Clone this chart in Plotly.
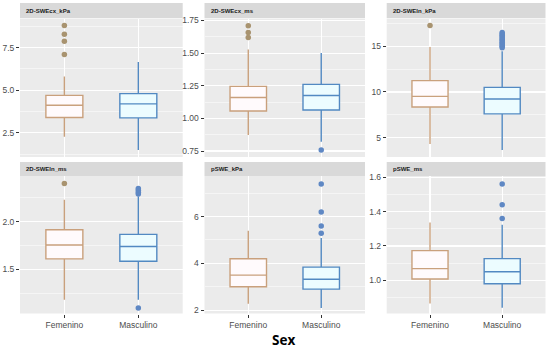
import plotly.graph_objects as go

groups = ["Femenino", "Masculino"]
panels = ["2D-SWEcx_kPa", "2D-SWEcx_ms", "2D-SWEln_kPa", "2D-SWEln_ms", "pSWE_kPa", "pSWE_ms"]

fem_low = [2.28, 0.873, 4.3, 1.18, 2.28, 0.865]
fem_q1 = [3.40, 1.056, 8.35, 1.61, 3.0, 1.008]
fem_median = [4.12, 1.16, 9.52, 1.756, 3.5, 1.068]
fem_q3 = [4.70, 1.245, 11.24, 1.916, 4.2, 1.173]
fem_high = [5.80, 1.527, 14.93, 2.23, 5.39, 1.336]
fem_outliers = [[7.09, 7.87, 8.28, 8.79], [1.62, 1.658, 1.71], [17.27], [2.40], [], []]

masc_low = [1.5, 0.82, 3.65, 1.18, 2.1, 0.84]
masc_q1 = [3.38, 1.064, 7.6, 1.584, 2.9, 0.98]
masc_median = [4.2, 1.175, 9.23, 1.74, 3.32, 1.05]
masc_q3 = [4.8, 1.26, 10.5, 1.867, 3.84, 1.126]
masc_high = [6.66, 1.50, 14.45, 2.265, 5.08, 1.323]
masc_outliers = [[], [0.757],
                 [14.85, 15.0, 15.15, 15.3, 15.45, 15.6, 15.75, 15.9, 16.05, 16.2, 16.35, 16.5],
                 [1.095, 2.29, 2.31, 2.33, 2.35], [5.29, 5.6, 6.19, 7.39], [1.36, 1.44, 1.56]]

y_ranges = [[1.09, 9.2], [0.704, 1.765], [2.88, 18.04], [1.036, 2.48], [1.86, 7.73], [0.807, 1.607]]
y_dticks = [2.5, 0.25, 5, 0.5, 2, 0.2]
y_formats = [".1f", ".2f", "d", ".1f", "d", ".1f"]
axis_title = "Sex"

W, H = 550, 349
col_px = [(20, 182.7), (204.5, 365), (386.7, 545.5)]
row_px = [(18.5, 157), (176, 313.5)]
strip_px = [(3, 18), (162, 176)]

def px_x(v):
    return v / W

def px_y(v):
    return 1 - v / H

fem_line = "#c9a07c"
fem_fill = "#fffafc"
fem_out = "#a8936f"
masc_line = "#5289c2"
masc_fill = "#ecfcff"
masc_out = "#5f88c4"

fig = go.Figure()
shapes = []
annotations = []

for i, name in enumerate(panels):
    r, c = divmod(i, 3)
    ax = "" if i == 0 else str(i + 1)
    xref = "x" + ax
    yref = "y" + ax
    stats = [
        (groups[0], fem_low[i], fem_q1[i], fem_median[i], fem_q3[i], fem_high[i], fem_outliers[i], fem_line, fem_fill, fem_out),
        (groups[1], masc_low[i], masc_q1[i], masc_median[i], masc_q3[i], masc_high[i], masc_outliers[i], masc_line, masc_fill, masc_out),
    ]
    for g, lo, q1, med, q3, hi, outs, lc, fc, oc in stats:
        fig.add_trace(go.Box(
            x=[g], q1=[q1], median=[med], q3=[q3], lowerfence=[lo], upperfence=[hi],
            boxpoints=False, width=0.5, whiskerwidth=0,
            line=dict(color=lc, width=1.4), fillcolor=fc,
            xaxis=xref, yaxis=yref, showlegend=False,
        ))
        if outs:
            fig.add_trace(go.Scatter(
                x=[g] * len(outs), y=outs, mode="markers",
                marker=dict(color=oc, size=5.5),
                xaxis=xref, yaxis=yref, showlegend=False,
            ))
    x0, x1 = col_px[c]
    y0, y1 = row_px[r]
    common_font = dict(family="Liberation Sans, Arial", size=8.5, color="#4d4d4d")
    fig.layout["xaxis" + ax] = dict(
        domain=[px_x(x0), px_x(x1)], anchor=yref, type="category",
        categoryorder="array", categoryarray=groups, range=[-0.6, 1.6],
        showgrid=True, gridcolor="white", gridwidth=1.1,
        showticklabels=(r == 1), ticks="outside" if r == 1 else "",
        ticklen=3, tickcolor="#333333", tickfont=common_font,
        zeroline=False, showline=False, automargin=False, fixedrange=True,
    )
    fig.layout["yaxis" + ax] = dict(
        domain=[px_y(y1), px_y(y0)], anchor=xref, range=y_ranges[i],
        dtick=y_dticks[i], tick0=0, tickformat=y_formats[i],
        showgrid=True, gridcolor="white", gridwidth=1.1,
        minor=dict(dtick=y_dticks[i] / 2, tick0=0, showgrid=True, gridcolor="white", gridwidth=0.5, ticks=""),
        ticks="outside", ticklen=3, tickcolor="#333333", tickfont=common_font,
        zeroline=False, showline=False, automargin=False, fixedrange=True,
    )
    shapes.append(dict(type="rect", xref="paper", yref="paper",
                       x0=px_x(x0), x1=px_x(x1), y0=px_y(y1), y1=px_y(y0),
                       fillcolor="#ebebeb", line=dict(width=0), layer="below"))
    s0, s1 = strip_px[r]
    shapes.append(dict(type="rect", xref="paper", yref="paper",
                       x0=px_x(x0), x1=px_x(x1), y0=px_y(s1), y1=px_y(s0),
                       fillcolor="#d9d9d9", line=dict(width=0), layer="below"))
    annotations.append(dict(text="<b>" + name + "</b>", xref="paper", yref="paper",
                            x=px_x(x0 + 4), y=px_y((s0 + s1) / 2), xanchor="left", yanchor="middle",
                            showarrow=False, font=dict(family="Liberation Sans, Arial", size=6, color="#1a1a1a")))

annotations.append(dict(text="<b>" + axis_title + "</b>", xref="paper", yref="paper",
                        x=px_x(283.5), y=px_y(339.5), xanchor="center", yanchor="middle",
                        showarrow=False, font=dict(family="Open Sans, Noto Sans, sans-serif", size=13.5, color="black")))

fig.update_layout(
    width=W, height=H, margin=dict(l=0, r=0, t=0, b=0),
    paper_bgcolor="white", plot_bgcolor="rgba(0,0,0,0)",
    shapes=shapes, annotations=annotations, showlegend=False,
    boxmode="overlay",
)

fig.write_html("out.html", config={"displayModeBar": False, "staticPlot": True},
               post_script="document.body.style.margin='0px';document.body.style.overflow='hidden';")
